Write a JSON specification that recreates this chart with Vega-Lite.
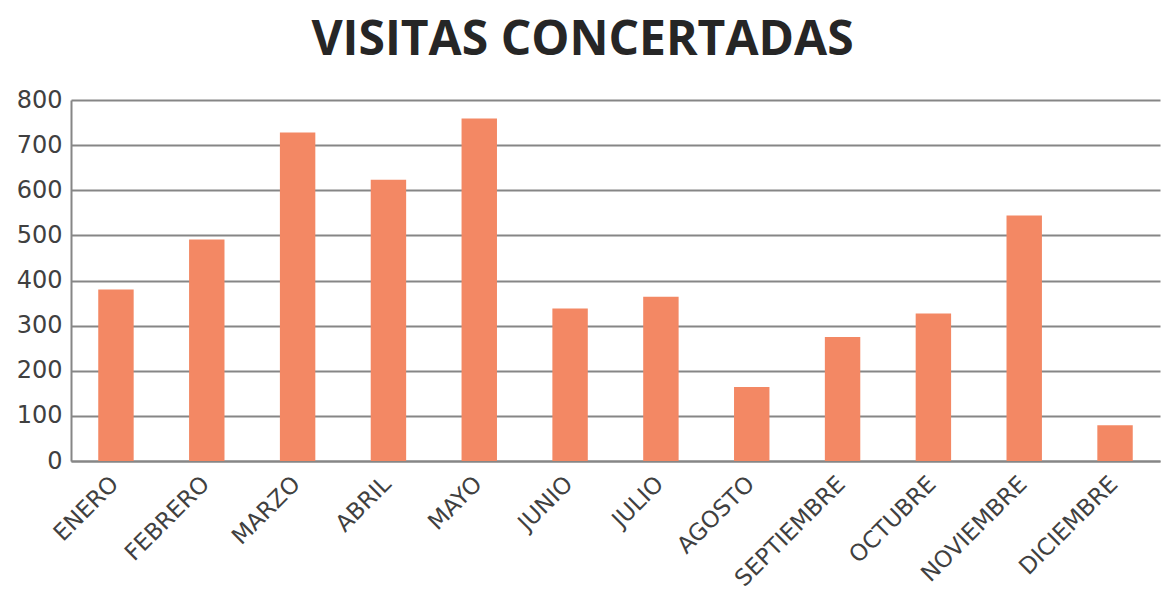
{
  "$schema": "https://vega.github.io/schema/vega-lite/v6.json",
  "autosize": {"type": "none"},
  "width": 1089,
  "height": 361,
  "padding": {"left": 71, "top": 100, "right": 4, "bottom": 132},
  "background": "white",
  "title": {
    "text": "VISITAS CONCERTADAS",
    "font": "Open Sans",
    "fontSize": 48,
    "fontWeight": "bold",
    "color": "#262626",
    "anchor": "middle",
    "dx": -33,
    "offset": 23
  },
  "data": {
    "values": [
      {"mes": "ENERO", "visitas": 380},
      {"mes": "FEBRERO", "visitas": 491},
      {"mes": "MARZO", "visitas": 728},
      {"mes": "ABRIL", "visitas": 623},
      {"mes": "MAYO", "visitas": 759},
      {"mes": "JUNIO", "visitas": 338},
      {"mes": "JULIO", "visitas": 364},
      {"mes": "AGOSTO", "visitas": 164},
      {"mes": "SEPTIEMBRE", "visitas": 275},
      {"mes": "OCTUBRE", "visitas": 327},
      {"mes": "NOVIEMBRE", "visitas": 544},
      {"mes": "DICIEMBRE", "visitas": 79}
    ]
  },
  "mark": {"type": "bar", "color": "#F38864"},
  "encoding": {
    "x": {
      "field": "mes",
      "type": "nominal",
      "sort": null,
      "scale": {"paddingInner": 0.61, "paddingOuter": 0.3},
      "axis": {
        "title": null,
        "labelAngle": -45,
        "labelAlign": "right",
        "labelBaseline": "middle",
        "labelFont": "DejaVu Sans",
        "labelFontSize": 23,
        "labelColor": "#404040",
        "labelPadding": 19,
        "labelOffset": -1,
        "labelOverlap": false,
        "ticks": false,
        "domainColor": "#868686",
        "domainWidth": 2,
        "grid": false
      }
    },
    "y": {
      "field": "visitas",
      "type": "quantitative",
      "scale": {"domain": [0, 800]},
      "axis": {
        "title": null,
        "values": [0, 100, 200, 300, 400, 500, 600, 700, 800],
        "labelFont": "DejaVu Sans",
        "labelFontSize": 24,
        "labelColor": "#404040",
        "labelPadding": 9,
        "ticks": false,
        "domainColor": "#868686",
        "domainWidth": 2,
        "grid": true,
        "gridColor": "#868686",
        "gridWidth": 2
      }
    }
  },
  "config": {"view": {"stroke": null}}
}
